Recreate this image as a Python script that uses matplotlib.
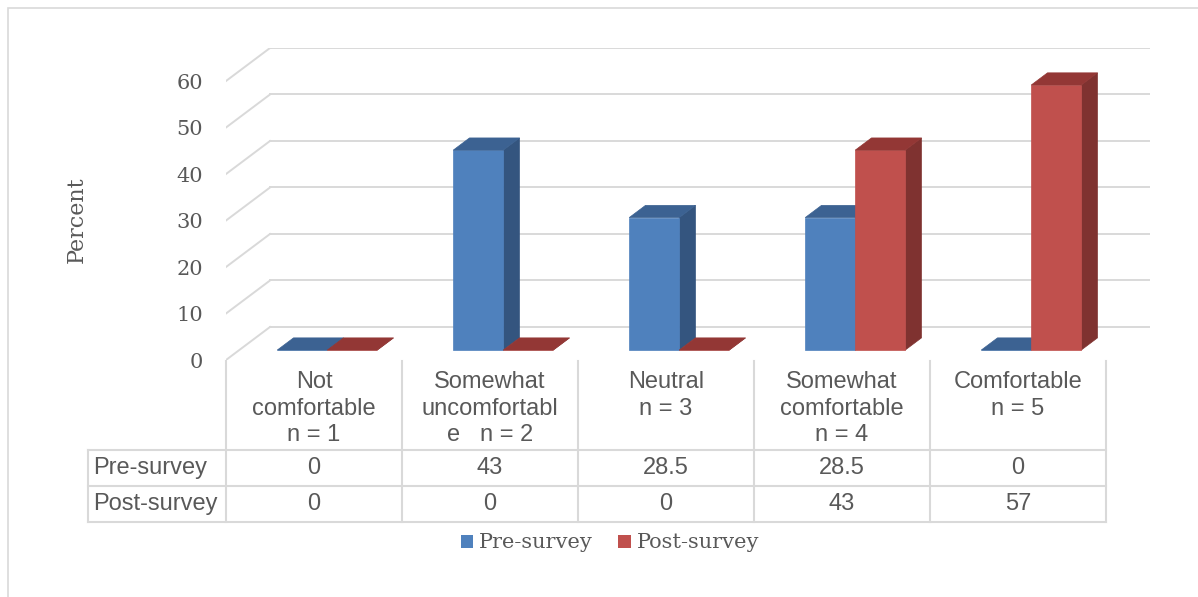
"""
3D-style clustered column chart with a data table underneath (comfort survey).
"""

import matplotlib.pyplot as plt
from matplotlib.patches import Patch, Polygon, Rectangle

# Data
categories = [
    "Not\ncomfortable\nn = 1",
    "Somewhat\nuncomfortabl\ne   n = 2",
    "Neutral\nn = 3",
    "Somewhat\ncomfortable\nn = 4",
    "Comfortable\nn = 5",
]
series_names = ["Pre-survey", "Post-survey"]
pre_survey = [0, 43, 28.5, 28.5, 0]
post_survey = [0, 0, 0, 43, 57]
y_ticks = [0, 10, 20, 30, 40, 50, 60]

W, H = 1198, 597
TEXT = "#595959"
GRID = "#D9D9D9"
SERIF = "DejaVu Serif"
SANS = "Liberation Sans"

# front / side / top colours for each series
face_colors = {
    "Pre-survey": ("#4F81BD", "#34557F", "#3C6292"),
    "Post-survey": ("#C0504D", "#7F3230", "#933735"),
}

# depth vector of the chart floor, in data units (x: categories, y: percent)
DX, DY = 0.25, 7.1
BAR_W = 0.284


def px_box(x0, y0, x1, y1):
    """Pixel box (origin top-left) -> figure fraction [l, b, w, h]."""
    return [x0 / W, 1 - y1 / H, (x1 - x0) / W, (y1 - y0) / H]


def bar3d(ax, x0, h, colors, f0=0.3, f1=0.67):
    front_c, side_c, top_c = colors
    ox0, oy0 = f0 * DX, f0 * DY
    ox1, oy1 = f1 * DX, f1 * DY
    x1 = x0 + BAR_W
    side = [(x1 + ox0, oy0), (x1 + ox1, oy1), (x1 + ox1, h + oy1), (x1 + ox0, h + oy0)]
    front = [(x0 + ox0, oy0), (x1 + ox0, oy0), (x1 + ox0, h + oy0), (x0 + ox0, h + oy0)]
    top = [(x0 + ox0, h + oy0), (x1 + ox0, h + oy0), (x1 + ox1, h + oy1), (x0 + ox1, h + oy1)]
    for pts, c in [(side, side_c), (front, front_c), (top, top_c)]:
        ax.add_patch(Polygon(pts, closed=True, facecolor=c, edgecolor=c, lw=0.5, zorder=3))


fig = plt.figure(figsize=(W / 100, H / 100), dpi=100)

# outer chart border (only left and top edges are visible)
fig.patches.append(
    Rectangle((8 / W, -0.2), 1.5, 1.2 - 8 / H, transform=fig.transFigure,
              fill=False, edgecolor=GRID, lw=1.2)
)

# Chart area
ax = fig.add_axes(px_box(226, 48, 1150, 360))
ax.set_xlim(0, len(categories) + DX)
ax.set_ylim(0, 67.1)
for s in ax.spines.values():
    s.set_visible(False)
ax.set_xticks([])
ax.set_yticks(y_ticks)
ax.set_yticklabels([str(v) for v in y_ticks], fontsize=15, family=SERIF, color=TEXT)
ax.tick_params(axis="y", length=0, pad=16.5)

# gridlines on side wall and back wall
for v in y_ticks:
    ax.plot([0, DX], [v, v + DY], color=GRID, lw=1.4, zorder=1)
    ax.plot([DX, len(categories) + DX], [v + DY, v + DY], color=GRID, lw=1.4, zorder=1)

# bars
for i in range(len(categories)):
    c = i + 0.5
    bar3d(ax, c - BAR_W, pre_survey[i], face_colors["Pre-survey"])
    bar3d(ax, c, post_survey[i], face_colors["Post-survey"])

fig.text(77 / W, 1 - 220 / H, "Percent", rotation=90, ha="center", va="center",
         fontsize=16, family=SERIF, color=TEXT)

# Data table
tax = fig.add_axes(px_box(88, 360, 1106, 522))
x_left = -138 / 176
tax.set_xlim(x_left, len(categories))
tax.set_ylim(0, 4.5)
tax.axis("off")

line_kw = dict(color=GRID, lw=1.5, clip_on=False, solid_capstyle="projecting")
for y in [0, 1, 2]:
    tax.plot([x_left, len(categories)], [y, y], **line_kw)
tax.plot([x_left, x_left], [0, 2], **line_kw)
for i in range(len(categories) + 1):
    tax.plot([i, i], [0, 4.47], **line_kw)

for i, label in enumerate(categories):
    tax.text(i + 0.5, 4.2, label, ha="center", va="top", fontsize=17,
             family=SANS, color=TEXT, linespacing=1.28)

for row, (name, values) in enumerate(zip(series_names, [pre_survey, post_survey])):
    yc = 1.5 - row
    tax.text(x_left + 5 / 176, yc, name, ha="left", va="center", fontsize=17,
             family=SANS, color=TEXT)
    for i, v in enumerate(values):
        tax.text(i + 0.5, yc, f"{v:g}", ha="center", va="center", fontsize=17,
                 family=SANS, color=TEXT)

# Legend
handles = [Patch(facecolor=face_colors[n][0], edgecolor="none") for n in series_names]
fig.legend(
    handles, series_names, loc="center", bbox_to_anchor=(610 / W, 1 - 543 / H),
    ncol=2, frameon=False, prop={"family": SERIF, "size": 15},
    handlelength=0.6, handleheight=0.6, handletextpad=0.3, columnspacing=1.2,
    labelcolor=TEXT,
)

fig.savefig("out.png", dpi=100)
